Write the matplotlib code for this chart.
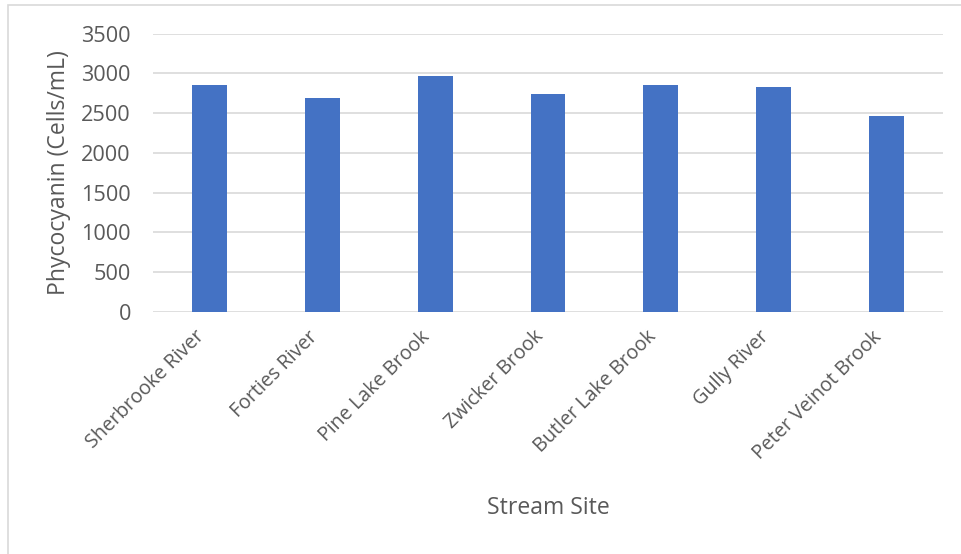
import matplotlib.pyplot as plt
import matplotlib.transforms as mtransforms
from matplotlib.patches import Rectangle

sites = ["Sherbrooke River", "Forties River", "Pine Lake Brook", "Zwicker Brook",
         "Butler Lake Brook", "Gully River", "Peter Veinot Brook"]
phycocyanin = [2855, 2688, 2967, 2745, 2855, 2830, 2464]
yticks = [0, 500, 1000, 1500, 2000, 2500, 3000, 3500]

plt.rcParams['font.family'] = ['Open Sans', 'DejaVu Sans']
txt = '#595959'

fig = plt.figure(figsize=(9.61, 5.54), dpi=100)
# chart border like Excel's chart area
fig.patches.append(Rectangle((8/961, -0.1), 1.1, 1 - 5/554 + 0.1, transform=fig.transFigure,
                             fill=False, edgecolor='#d9d9d9', linewidth=1.2))

ax = fig.add_axes([153/961, 1 - 311.7/554, 790/961, 278/554])
x = range(len(sites))
ax.bar(x, phycocyanin, width=0.31, color='#4472C4', zorder=3)

ax.set_xlim(-0.5, len(sites) - 0.5)
ax.set_ylim(0, 3500)
ax.set_yticks(yticks)
ax.set_yticklabels([str(v) for v in yticks])
ax.grid(axis='y', color='#d9d9d9', linewidth=1.2, zorder=0)
for s in ax.spines.values():
    s.set_visible(False)
ax.tick_params(axis='y', length=0, pad=16, labelsize=15.6, labelcolor=txt)
ax.tick_params(axis='x', length=0, pad=16, labelsize=14.2, labelcolor=txt)
ax.set_xticks(list(x))
ax.set_xticklabels(sites, rotation=45, ha='right', va='center', rotation_mode='anchor')
shift = mtransforms.ScaledTranslation(-8/100, 0, fig.dpi_scale_trans)
for lab in ax.get_xticklabels():
    lab.set_transform(lab.get_transform() + shift)

ax.set_ylabel("Phycocyanin (Cells/mL)", fontsize=16.6, color=txt)
ax.yaxis.set_label_coords((59 - 153) / 790, 0.5)
ax.set_xlabel("Stream Site", fontsize=16.6, color=txt)
ax.xaxis.set_label_coords(0.5, (311.7 - 508) / 278)
ax.xaxis.label.set_va('center')
ax.yaxis.label.set_va('center')

fig.savefig("out.png", dpi=100)
